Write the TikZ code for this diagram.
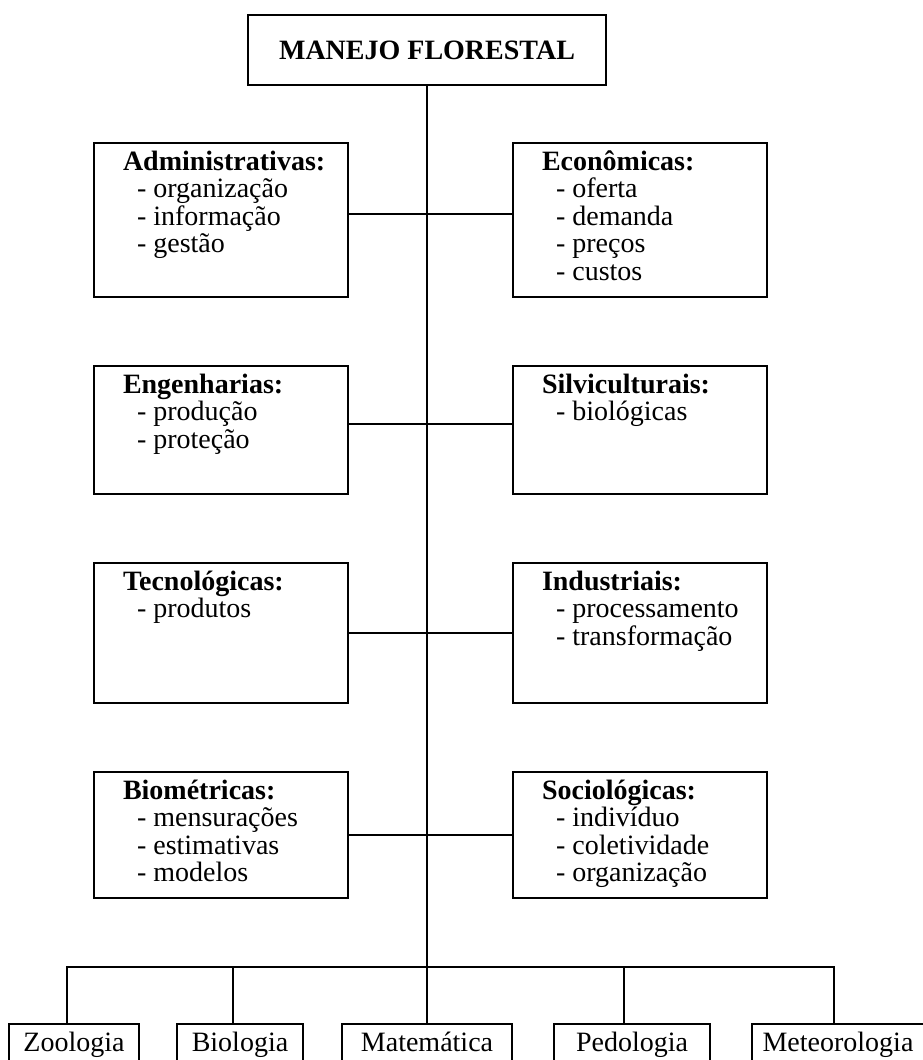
\documentclass[tikz,border=0pt]{standalone}
\usepackage{fontspec}
\setmainfont{Liberation Serif}
\usetikzlibrary{positioning}

\newcommand{\caixa}[2]{\parbox[c][#1][t]{254pt}{\raggedright\leftskip=29pt\fontsize{28}{27.5}\selectfont\rule{0pt}{27pt}#2}}
\newcommand{\topico}[1]{\\\hspace*{14pt}- #1}

\begin{document}
\begin{tikzpicture}[x=1pt,y=-1pt,line width=2pt,
    ladobox/.style={draw,inner sep=0pt,anchor=north west},
    topbox/.style={draw,inner sep=0pt,minimum width=358pt,minimum height=70pt,font=\fontsize{28}{28}\selectfont\bfseries},
    leafbox/.style={draw,inner xsep=0pt,inner ysep=8pt,text height=19pt,text depth=6pt,anchor=north,font=\fontsize{28}{28}\selectfont}]
    \useasboundingbox (0,0) rectangle (923,1060);
    \clip (0,0) rectangle (923,1060);

    \node[topbox] (manejo) at (427,50) {MANEJO FLORESTAL};

    \node[ladobox] (adm) at (93,142) {\caixa{154pt}{\textbf{Administrativas:}\topico{organização}\topico{informação}\topico{gestão}}};
    \node[ladobox] (eco) at (512,142) {\caixa{154pt}{\textbf{Econômicas:}\topico{oferta}\topico{demanda}\topico{preços}\topico{custos}}};
    \node[ladobox] (eng) at (93,365) {\caixa{128pt}{\textbf{Engenharias:}\topico{produção}\topico{proteção}}};
    \node[ladobox] (sil) at (512,365) {\caixa{128pt}{\textbf{Silviculturais:}\topico{biológicas}}};
    \node[ladobox] (tec) at (93,562) {\caixa{140pt}{\textbf{Tecnológicas:}\topico{produtos}}};
    \node[ladobox] (ind) at (512,562) {\caixa{140pt}{\textbf{Industriais:}\topico{processamento}\topico{transformação}}};
    \node[ladobox] (biom) at (93,771) {\caixa{126pt}{\textbf{Biométricas:}\topico{mensurações}\topico{estimativas}\topico{modelos}}};
    \node[ladobox] (soc) at (512,771) {\caixa{126pt}{\textbf{Sociológicas:}\topico{indivíduo}\topico{coletividade}\topico{organização}}};

    \node[leafbox,minimum width=130pt] (zoo) at (74,1023) {Zoologia};
    \node[leafbox,minimum width=126pt] (biol) at (240,1023) {Biologia};
    \node[leafbox,minimum width=170pt] (mat) at (427,1023) {Matemática};
    \node[leafbox,minimum width=156pt] (ped) at (632,1023) {Pedologia};
    \node[leafbox,minimum width=172pt] (met) at (838,1023) {Meteorologia};

    \coordinate (barra) at (427,967);

    \draw (manejo.south) -- (manejo.south |- mat.north);
    \draw ([yshift=6pt]adm.east) -- ([yshift=6pt]adm.east -| eco.west);
    \draw ([yshift=6pt]eng.east) -- ([yshift=6pt]eng.east -| sil.west);
    \draw (tec.east) -- (ind.west);
    \draw (biom.east) -- (soc.west);
    \draw ([xshift=-7pt]zoo.north) |- (barra) -| ([xshift=-4pt]met.north);
    \draw ([xshift=-7pt]biol.north) -- ([xshift=-7pt]biol.north |- barra);
    \draw ([xshift=-8pt]ped.north) -- ([xshift=-8pt]ped.north |- barra);

\end{tikzpicture}
\end{document}
